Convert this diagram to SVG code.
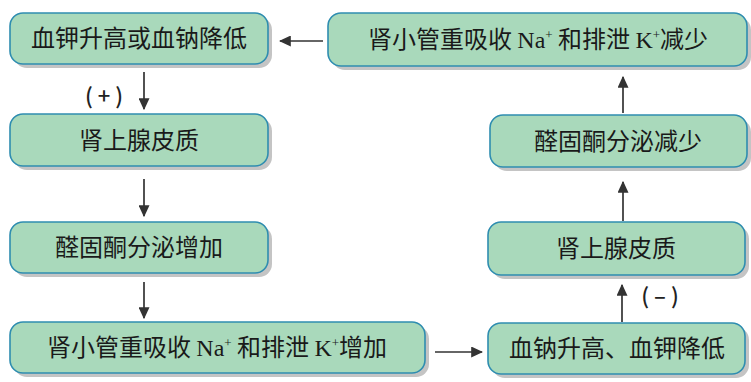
<svg xmlns="http://www.w3.org/2000/svg" width="751" height="382" viewBox="0 0 751 382">
<defs>
<style>
.sh{fill:#c4c4c4;}
.bx{fill:#a9d9bb;stroke:#2f8db0;stroke-width:1.6;}
.t{font-family:"Noto Sans CJK SC","Noto Sans",sans-serif;font-size:24px;fill:#1a1a1a;text-anchor:middle;}
.s{font-family:"Liberation Serif",serif;}
.sup{font-family:"Liberation Serif",serif;font-size:13px;}
.lb{font-family:"Noto Sans CJK SC","Noto Sans",sans-serif;font-size:22px;font-weight:500;fill:#222;text-anchor:middle;}
.ln{stroke:#333;stroke-width:1.7;fill:none;marker-end:url(#ah);}
</style>
<marker id="ah" viewBox="0 0 10 10" refX="9" refY="5" markerWidth="12" markerHeight="11" markerUnits="userSpaceOnUse" orient="auto" preserveAspectRatio="none">
<path d="M0,0 L10,5 L0,10 z" fill="#333"/>
</marker>
</defs>
<rect width="751" height="382" fill="#ffffff"/>

<g id="n1">
<rect class="sh" x="14" y="17" width="258" height="51" rx="13"/>
<rect class="bx" x="10" y="13" width="258" height="51" rx="13"/>
<text class="t" x="139" y="47">血钾升高或血钠降低</text>
</g>
<g id="n2">
<rect class="sh" x="14" y="118" width="258" height="52" rx="13"/>
<rect class="bx" x="10" y="114" width="258" height="52" rx="13"/>
<text class="t" x="139" y="149">肾上腺皮质</text>
</g>
<g id="n3">
<rect class="sh" x="14" y="226" width="258" height="51" rx="13"/>
<rect class="bx" x="10" y="222" width="258" height="51" rx="13"/>
<text class="t" x="139" y="256">醛固酮分泌增加</text>
</g>
<g id="n4">
<rect class="sh" x="14" y="326" width="415" height="51" rx="13"/>
<rect class="bx" x="10" y="322" width="415" height="51" rx="13"/>
<text class="t" x="217" y="356">肾小管重吸收 <tspan class="s">Na</tspan><tspan class="sup" dy="-9">+</tspan><tspan dy="9"> 和排泄 </tspan><tspan class="s">K</tspan><tspan class="sup" dy="-9">+</tspan><tspan dy="9">增加</tspan></text>
</g>
<g id="n5">
<rect class="sh" x="492" y="327" width="257" height="51" rx="13"/>
<rect class="bx" x="488" y="323" width="257" height="51" rx="13"/>
<text class="t" x="617" y="357">血钠升高、血钾降低</text>
</g>
<g id="n6">
<rect class="sh" x="492" y="226" width="257" height="53" rx="13"/>
<rect class="bx" x="488" y="222" width="257" height="53" rx="13"/>
<text class="t" x="616" y="257">肾上腺皮质</text>
</g>
<g id="n7">
<rect class="sh" x="494" y="119" width="257" height="52" rx="13"/>
<rect class="bx" x="490" y="115" width="257" height="52" rx="13"/>
<text class="t" x="618" y="150">醛固酮分泌减少</text>
</g>
<g id="n8">
<rect class="sh" x="332" y="17" width="419" height="53" rx="13"/>
<rect class="bx" x="328" y="13" width="419" height="53" rx="13"/>
<text class="t" x="538" y="48">肾小管重吸收 <tspan class="s">Na</tspan><tspan class="sup" dy="-9">+</tspan><tspan dy="9"> 和排泄 </tspan><tspan class="s">K</tspan><tspan class="sup" dy="-9">+</tspan><tspan dy="9">减少</tspan></text>
</g>

<g id="connectors">
<line class="ln" x1="144" y1="72" x2="144" y2="109"/>
<line class="ln" x1="144" y1="179" x2="144" y2="216"/>
<line class="ln" x1="144" y1="282" x2="144" y2="318"/>
<line class="ln" x1="435" y1="352" x2="482" y2="352"/>
<line class="ln" x1="622" y1="322" x2="622" y2="285"/>
<line class="ln" x1="623" y1="221" x2="623" y2="182"/>
<line class="ln" x1="623" y1="113" x2="623" y2="77"/>
<line class="ln" x1="323" y1="41" x2="280" y2="41"/>
<text class="lb" x="104" y="104">(<tspan dx="5">+</tspan><tspan dx="5">)</tspan></text>
<text class="lb" x="660" y="304">(<tspan dx="5">–</tspan><tspan dx="5">)</tspan></text>
</g>
</svg>
